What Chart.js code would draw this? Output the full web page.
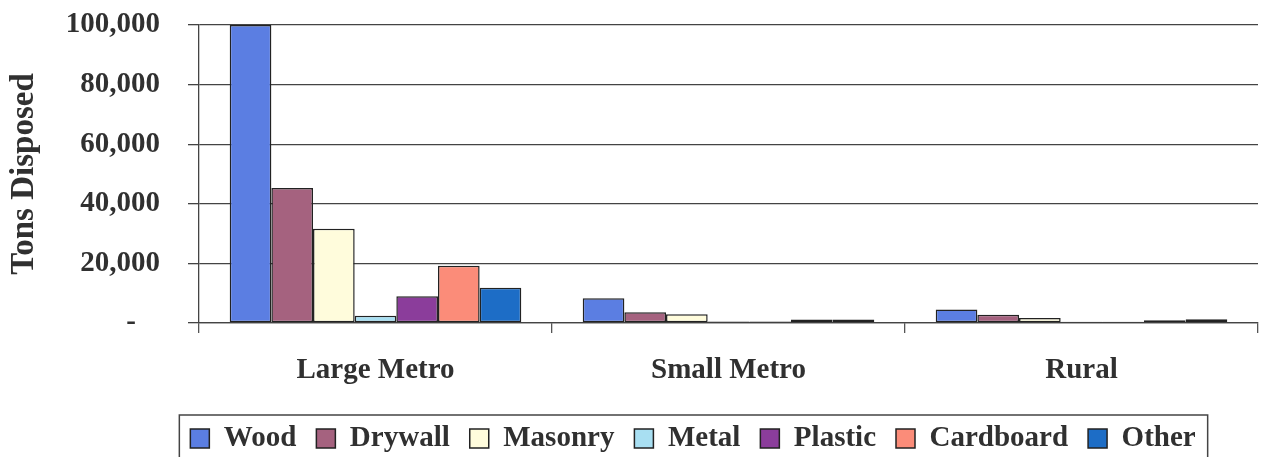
<!DOCTYPE html>
<html>
<head>
<meta charset="utf-8">
<script src="https://cdn.jsdelivr.net/npm/chart.js@4"></script>
<style>
  html, body { margin: 0; padding: 0; background: #fff; }
  #wrap { width: 1265px; height: 457px; }
</style>
</head>
<body>
<div id="wrap"><canvas id="c" width="1265" height="457"></canvas></div>
<script>
// Regions and disposal tonnage by material
const regions = ['Large Metro', 'Small Metro', 'Rural'];
const wood = [100000, 8300, 4500];
const drywall = [45300, 3600, 2800];
const masonry = [31600, 2900, 1700];
const metal = [2400, 500, 400];
const plastic = [9000, 500, 400];
const cardboard = [19200, 1200, 900];
const other = [11800, 1200, 1300];
const yTicks = [0, 20000, 40000, 60000, 80000, 100000];

const materials = [
  { label: 'Wood', data: wood, color: '#5b7ee2' },
  { label: 'Drywall', data: drywall, color: '#a5627f' },
  { label: 'Masonry', data: masonry, color: '#fffcdc' },
  { label: 'Metal', data: metal, color: '#a8dff2' },
  { label: 'Plastic', data: plastic, color: '#8b3d9b' },
  { label: 'Cardboard', data: cardboard, color: '#fb8c79' },
  { label: 'Other', data: other, color: '#1d6dc6' }
];

const FONT = '"Liberation Serif", "Times New Roman", serif';
const INK = '#303030';

// Shift the legend row and draw the frame around it
const legendFrame = {
  id: 'legendFrame',
  afterLayout(chart) {
    const lg = chart.legend;
    lg.left += 64; lg.right += 64;
    lg.top += 6; lg.bottom += 6;
  },
  afterDraw(chart) {
    const boxes = chart.legend.legendHitBoxes;
    if (!boxes || !boxes.length) return;
    const first = boxes[0], last = boxes[boxes.length - 1];
    const ctx = chart.ctx;
    ctx.save();
    ctx.strokeStyle = '#444';
    ctx.lineWidth = 1.5;
    ctx.strokeRect(first.left - 11, first.top - 9, (last.left + last.width) - first.left + 23, 60);
    ctx.restore();
  }
};

new Chart(document.getElementById('c'), {
  type: 'bar',
  data: {
    labels: regions,
    datasets: materials.map(m => ({
      label: m.label,
      data: m.data,
      backgroundColor: m.color,
      borderColor: '#222',
      borderWidth: 1.5,
      borderSkipped: false,
      categoryPercentage: 0.826,
      barPercentage: 1.0
    }))
  },
  options: {
    responsive: false,
    animation: false,
    layout: { padding: { top: 25, right: 7, left: 0, bottom: 0 } },
    plugins: {
      tooltip: { enabled: false },
      legend: {
        position: 'bottom',
        labels: {
          color: INK,
          font: { family: FONT, size: 29, weight: 'bold' },
          boxWidth: 19,
          boxHeight: 19,
          padding: 20
        }
      }
    },
    scales: {
      x: {
        grid: {
          display: true,
          drawOnChartArea: false,
          drawTicks: true,
          tickLength: 10,
          color: '#555',
          lineWidth: 1.3
        },
        border: { display: true, color: '#444', width: 1.3 },
        ticks: {
          color: INK,
          font: { family: FONT, size: 29, weight: 'bold' },
          padding: 20
        },
        afterFit(scale) { scale.height = 75; }
      },
      y: {
        min: 0,
        max: 100000,
        afterBuildTicks(scale) { scale.ticks = yTicks.map(v => ({ value: v })); },
        grid: {
          color: '#444',
          lineWidth: 1.3,
          drawTicks: true,
          tickLength: 11
        },
        border: { display: true, color: '#444', width: 1.3 },
        ticks: {
          color: INK,
          font: { family: FONT, size: 29, weight: 'bold' },
          padding: 28,
          callback: v => v === 0 ? '-\u2002\u2004' : v.toLocaleString('en-US')
        },
        title: {
          display: true,
          text: 'Tons Disposed',
          color: INK,
          font: { family: FONT, size: 33, weight: 'bold' },
          padding: { top: 5, bottom: 0 }
        },
        afterFit(scale) {
          scale.width = 199;
          scale.paddingTop = 10;
          scale.paddingBottom = 10;
        }
      }
    }
  },
  plugins: [legendFrame]
});
</script>
</body>
</html>
